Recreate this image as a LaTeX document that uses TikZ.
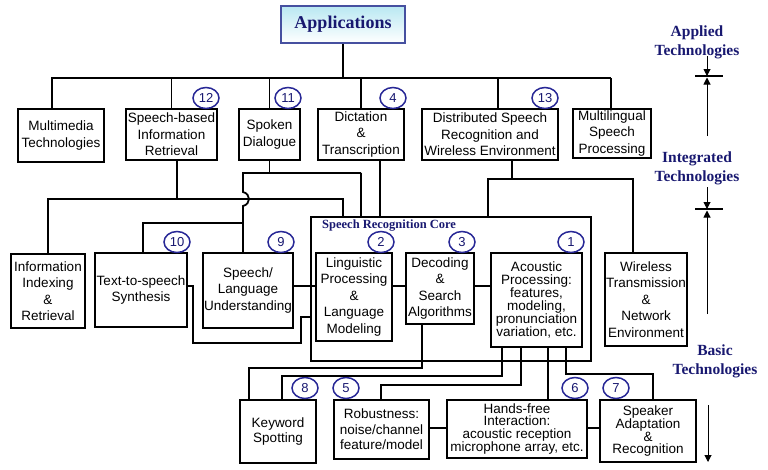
\documentclass[tikz,border=0pt]{standalone}
\usepackage{fontspec}
\setmainfont{Liberation Sans}
\newfontfamily\serifb{Liberation Serif}
\usetikzlibrary{arrows.meta,shapes.geometric}
\definecolor{navy}{RGB}{24,24,112}
\definecolor{circ}{RGB}{40,40,150}
\definecolor{appcyan}{RGB}{185,232,242}
\definecolor{appedge}{RGB}{70,80,160}
\begin{document}
\begin{tikzpicture}[x=1pt,y=-1pt,
  box/.style={draw, line width=1.8pt, inner sep=0pt, align=center, font=\fontsize{13.5}{16.5}\selectfont},
  num/.style={draw=circ, line width=1.5pt, ellipse, minimum width=26pt, minimum height=21pt, inner sep=0pt, text=navy, font=\fontsize{13}{13}\selectfont},
  conn/.style={line width=1.8pt},
  thinline/.style={line width=1.1pt},
  lab/.style={text=navy, font=\serifb\bfseries\fontsize{15.5}{19}\selectfont, align=center},
  tip/.style={line width=1pt, -{Triangle[width=7pt,length=7pt]}}]
\useasboundingbox (0,0) rectangle (768,469);

% title
\node[draw=appedge, line width=1.5pt, top color=appcyan, bottom color=white, minimum width=124pt, minimum height=37pt, inner sep=0pt, text=navy, font=\serifb\bfseries\fontsize{18}{18}\selectfont] (app) at (343,24.5) {Applications};

% applied row
\node[box, minimum width=86pt, minimum height=53pt] (mm) at (61,135.5) {Multimedia\\Technologies};
\node[box, minimum width=91pt, minimum height=51pt] (sbir) at (171.5,134.5) {Speech-based\\Information\\Retrieval};
\node[box, minimum width=61pt, minimum height=51pt] (spoken) at (269.5,134.5) {Spoken\\Dialogue};
\node[box, minimum width=86pt, minimum height=51pt] (dict) at (361,134.5) {Dictation\\\&\\Transcription};
\node[box, minimum width=136pt, minimum height=51pt] (dsr) at (490,134.5) {Distributed Speech\\Recognition and\\Wireless Environment};
\node[box, minimum width=78pt, minimum height=49pt] (multi) at (612,133.5) {Multilingual\\Speech\\Processing};

% core
\node[draw, line width=1.1pt, minimum width=280pt, minimum height=144pt, inner sep=0pt] (core) at (451,289) {};
\node[anchor=west, inner sep=0pt, text=navy, font=\serifb\bfseries\fontsize{12.5}{12.5}\selectfont] (coretitle) at (322,226) {Speech Recognition Core};

% integrated / basic row
\node[box, minimum width=74pt, minimum height=74pt] (iir) at (48,291) {Information\\Indexing\\\&\\Retrieval};
\node[box, minimum width=92pt, minimum height=74pt] (tts) at (141,290) {Text-to-speech\\Synthesis};
\node[box, minimum width=90pt, minimum height=75pt] (slu) at (248,290.5) {Speech/\\Language\\Understanding};
\node[box, minimum width=76pt, minimum height=88pt] (lp) at (354,297) {Linguistic\\Processing\\\&\\Language\\Modeling};
\node[box, minimum width=68pt, minimum height=71pt] (dec) at (440,288.5) {Decoding\\\&\\Search\\Algorithms};
\node[box, minimum width=91pt, minimum height=94pt, font=\fontsize{13.5}{13}\selectfont] (ac) at (536.5,300) {Acoustic\\Processing:\\features,\\modeling,\\pronunciation\\variation, etc.};
\node[box, minimum width=82pt, minimum height=93pt] (wl) at (646,299.5) {Wireless\\Transmission\\\&\\Network\\Environment};

% bottom row
\node[box, minimum width=76pt, minimum height=63pt, font=\fontsize{13.5}{15.5}\selectfont] (kw) at (278,431.5) {Keyword\\Spotting};
\node[box, minimum width=95pt, minimum height=59pt, font=\fontsize{13.5}{15.5}\selectfont] (rob) at (381.5,429.5) {Robustness:\\noise/channel\\feature/model};
\node[box, minimum width=140pt, minimum height=58pt, font=\fontsize{13.5}{12.5}\selectfont] (hf) at (517,429) {Hands-free\\Interaction:\\acoustic reception\\microphone array, etc.};
\node[box, minimum width=96pt, minimum height=62pt, font=\fontsize{13.5}{12.5}\selectfont] (sp) at (648,431) {Speaker\\Adaptation\\\&\\Recognition};

% numbers
\node[num] (n12) at (206,98) {12};
\node[num] (n11) at (288,98) {11};
\node[num] (n4) at (393,98) {4};
\node[num] (n13) at (545,98) {13};
\node[num] (n10) at (177,242) {10};
\node[num] (n9) at (281,242) {9};
\node[num] (n2) at (381,242) {2};
\node[num] (n3) at (462,242) {3};
\node[num] (n1) at (571,242) {1};
\node[num] (n8) at (305,388) {8};
\node[num] (n5) at (346,388) {5};
\node[num] (n6) at (575,388) {6};
\node[num] (n7) at (616,388) {7};

% top bus
\draw[conn] (app.south) -- (app.south |- 0,78);
\draw[conn] (52,0 |- mm.north) -- (52,78) -- (611,78);
\draw[conn] (sbir.north) -- (sbir.north |- 0,78);
\draw[thinline] (spoken.north) -- (spoken.north |- 0,78);
\draw[thinline] (dict.north) -- (dict.north |- 0,78);
\draw[conn] (498,0 |- dsr.north) -- (498,78);
\draw[thinline] (611,0 |- multi.north) -- (611,78);

% applied to integrated
\draw[conn] (177,0 |- sbir.south) -- (177,199);
\draw[conn] (iir.north) -- (iir.north |- 0,199) -- (343,199) -- (343,0 |- core.north);
\draw[conn] (spoken.south) -- (spoken.south |- 0,173);
\draw[conn] (243,0 |- slu.north) -- (243,206) .. controls (251,204) and (251,194) .. (243,192) -- (243,173) -- (361,173);
\draw[thinline] (361,173) -- (361,0 |- core.north);
\draw[conn] (243,223) -- (143,223) -- (143,0 |- tts.north);
\draw[thinline] (380,0 |- dict.south) -- (380,0 |- core.north);
\draw[conn] (512,0 |- dsr.south) -- (512,179);
\draw[conn] (488,0 |- core.north) -- (488,179) -- (633,179) -- (633,0 |- wl.north);

% core links
\draw[conn] (slu.east |- 0,286) -- (lp.west |- 0,286);
\draw[conn] (lp.east |- 0,286) -- (dec.west |- 0,286);
\draw[conn] (dec.east |- 0,286) -- (ac.west |- 0,286);
\draw[conn] (tts.east |- 0,286) -- (193,286) -- (193,343) -- (301,343) -- (301,317) -- (core.west |- 0,317);

% bottom links
\draw[conn] (422,0 |- dec.south) -- (422,368) -- (249,368) -- (249,0 |- kw.north);
\draw[conn] (502,0 |- ac.south) -- (502,376) -- (282,376) -- (282,0 |- kw.north);
\draw[conn] (521,0 |- ac.south) -- (521,385) -- (381,385) -- (381,0 |- rob.north);
\draw[conn] (548,0 |- ac.south) -- (548,0 |- hf.north);
\draw[conn] (566,0 |- ac.south) -- (566,374) -- (653,374) -- (653,0 |- sp.north);
\draw[thinline] (rob.east |- 0,428) -- (hf.west |- 0,428);
\draw[thinline] (hf.east |- 0,428) -- (sp.west |- 0,428);

% right-hand scale
\node[lab] (applied) at (697,42) {Applied\\Technologies};
\node[lab] (integ) at (697,168) {Integrated\\Technologies};
\node[lab] (basic) at (715,361) {Basic\\Technologies};
\coordinate (t1) at (707,76);
\coordinate (t2) at (707,209);
\draw[tip] (707,56) -- (t1);
\draw[line width=1.6pt] (695,76) -- (723,76);
\draw[tip] (707,136) -- (707,77.5);
\draw[tip] (707,187) -- (t2);
\draw[line width=1.6pt] (695,209) -- (723,209);
\draw[tip] (707,314) -- (707,210.5);
\draw[tip] (708,405) -- (708,462);
\end{tikzpicture}
\end{document}
